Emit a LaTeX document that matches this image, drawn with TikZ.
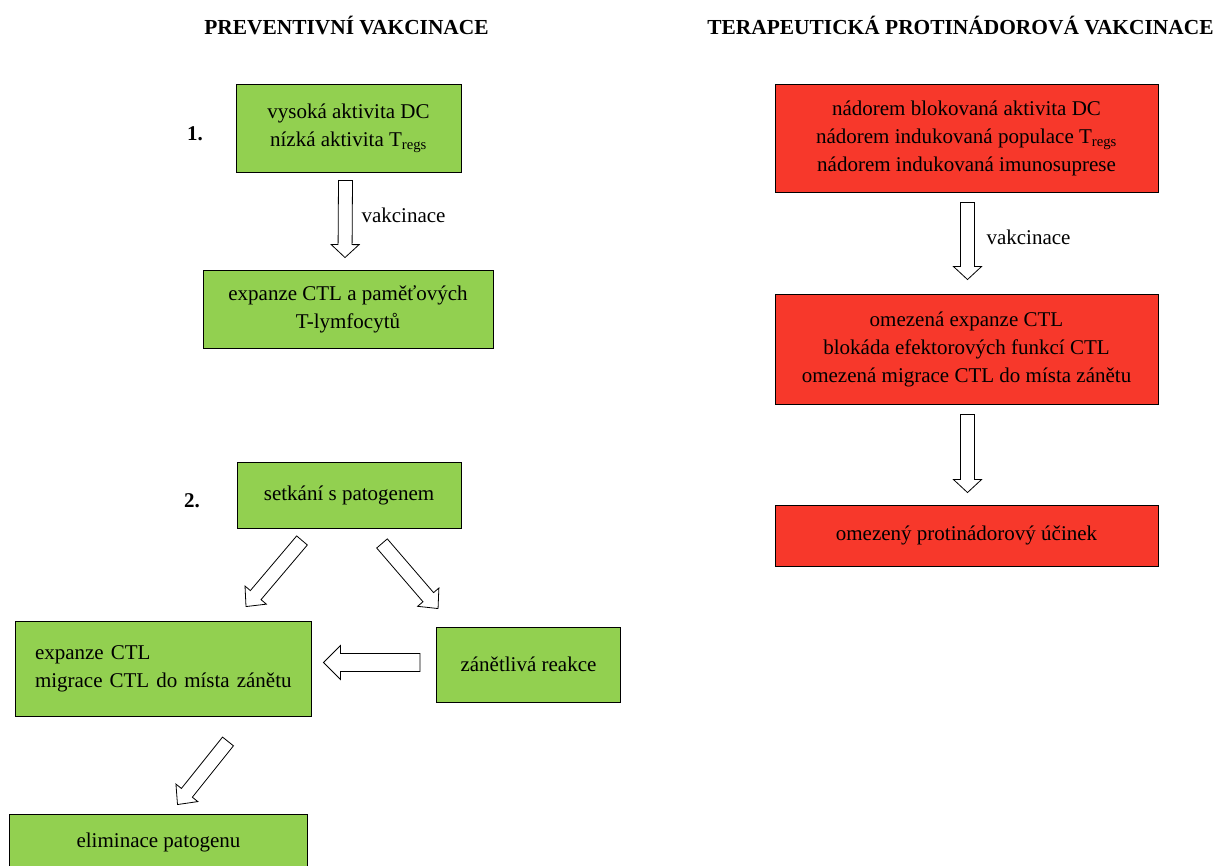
\documentclass[tikz,border=0pt]{standalone}
\usepackage{fontspec}
\setmainfont{Liberation Serif}
\usetikzlibrary{calc}

\definecolor{prevgreen}{RGB}{146,208,80}
\definecolor{tumorred}{RGB}{247,56,43}

% block arrow: from, tip, half shaft, half head, head length
\newcommand{\blockarrow}[5]{%
  \coordinate (ba-m) at ($(#2)!#5pt!(#1)$);
  \draw[blockarrow] ($(#1)!#3pt!90:(#2)$) -- ($(ba-m)!#3pt!-90:(#1)$)
    -- ($(ba-m)!#4pt!-90:(#1)$) -- (#2) -- ($(ba-m)!#4pt!90:(#1)$)
    -- ($(ba-m)!#3pt!90:(#1)$) -- ($(#1)!#3pt!-90:(#2)$) -- cycle;
}

\begin{document}
\begin{tikzpicture}[
    x=1pt, y=-1pt,
    font=\fontsize{21}{28}\selectfont,
    box/.style={draw, line width=0.9pt, inner sep=0pt, align=center},
    prevbox/.style={box, fill=prevgreen},
    tumorbox/.style={box, fill=tumorred, minimum width=383pt},
    heading/.style={font=\fontsize{21.4}{26}\selectfont\bfseries},
    blockarrow/.style={draw, fill=white, line width=0.8pt, line join=miter}
]
\useasboundingbox (0,0) rectangle (1218,866);

% headings
\node[heading] (h1) at (346.5,25) {PREVENTIVNÍ VAKCINACE};
\node[heading] (h2) at (960.5,25) {TERAPEUTICKÁ PROTINÁDOROVÁ VAKCINACE};

% preventive vaccination
\node[font=\fontsize{21}{28}\selectfont\bfseries] (n1) at (195,134) {1.};
\node[prevbox, minimum width=225pt, minimum height=88pt] (p1) at (348.5,128) {vysoká aktivita DC\\nízká aktivita T\textsubscript{regs}};
\node[prevbox, minimum width=290pt, minimum height=78pt] (p2) at (348,309) {expanze CTL a paměťových\\T-lymfocytů};
\node[font=\fontsize{21}{28}\selectfont\bfseries] (n2) at (192,501) {2.};
\node[prevbox, minimum width=224pt, minimum height=66pt] (p3) at (349,495) {setkání s patogenem};
\node[prevbox, text width=268pt, inner xsep=14pt, align=left, minimum height=95pt] (p4) at (163,668.5) {\hspace*{6pt}expanze CTL\\\hspace*{6pt}migrace CTL do místa zánětu};
\node[prevbox, minimum width=184pt, minimum height=75pt] (p5) at (528.5,664.5) {zánětlivá reakce};
\node[prevbox, minimum width=298pt, minimum height=56pt] (p6) at (158.5,842) {eliminace patogenu};

% therapeutic vaccination
\node[tumorbox, minimum height=108pt] (t1) at (966.5,138) {nádorem blokovaná aktivita DC\\nádorem indukovaná populace T\textsubscript{regs}\\nádorem indukovaná imunosuprese};
\node[tumorbox, minimum height=110pt] (t2) at (966.5,349) {omezená expanze CTL\\blokáda efektorových funkcí CTL\\omezená migrace CTL do místa zánětu};
\node[tumorbox, minimum height=61pt] (t3) at (966.5,535.5) {omezený protinádorový účinek};

% arrow ends
\coordinate (a1s) at ($(p1.south)+(-3,8)$);
\coordinate (a1e) at ($(p2.north)+(-3,-12)$);
\coordinate (a2s) at ($(p3.south)+(-47,12)$);
\coordinate (a2e) at ($(p4.north)+(83,-14)$);
\coordinate (a3s) at ($(p3.south)+(33,15)$);
\coordinate (a3e) at ($(p5.north west)+(2,-18)$);
\coordinate (a4s) at ($(p5.west)+(-16,-2)$);
\coordinate (a4e) at ($(p4.east)+(12,-6)$);
\coordinate (a5s) at ($(p4.south)+(65,25)$);
\coordinate (a5e) at ($(p6.north)+(19,-9)$);
\coordinate (b1s) at ($(t1.south)+(1,10)$);
\coordinate (b1e) at ($(t2.north)+(1,-14)$);
\coordinate (b2s) at ($(t2.south)+(1,10)$);
\coordinate (b2e) at ($(t3.north)+(1,-12)$);

\blockarrow{a1s}{a1e}{7}{14}{13}
\blockarrow{a2s}{a2e}{7}{14}{15}
\blockarrow{a3s}{a3e}{7}{14}{15}
\blockarrow{a4s}{a4e}{9}{17}{17}
\blockarrow{a5s}{a5e}{7}{14}{15}
\blockarrow{b1s}{b1e}{7}{14}{13}
\blockarrow{b2s}{b2e}{7}{14}{13}

\node[anchor=west] (v1) at (358,215) {vakcinace};
\node[anchor=west] (v2) at (983,237) {vakcinace};
\end{tikzpicture}
\end{document}
